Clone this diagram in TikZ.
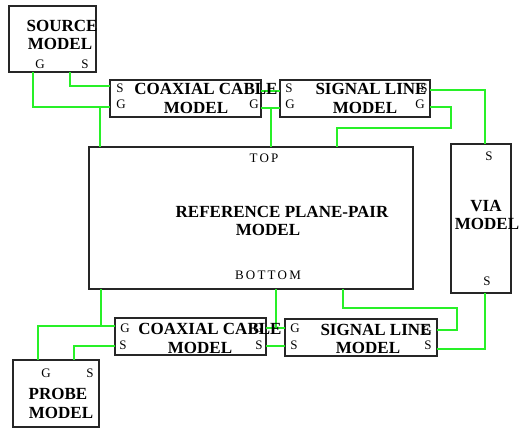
\documentclass[tikz,border=0pt]{standalone}
\usepackage{fontspec}
\setmainfont{Liberation Serif}[BoldFont={Liberation Serif Bold}]
\definecolor{wirec}{RGB}{40,240,40}
\begin{document}
\begin{tikzpicture}[x=1pt,y=-1pt,
  box/.style={draw=black!85,line width=1.2pt,inner sep=0pt,minimum height=37pt},
  big/.style={font=\rmfamily\fontsize{17}{18}\selectfont\bfseries,inner sep=0pt},
  lbl/.style={font=\rmfamily\fontsize{13}{14}\selectfont,inner sep=0pt},
  wire/.style={draw=wirec,line width=1.1pt}]
\useasboundingbox (0,0) rectangle (519,428);
% boxes
\node[box,minimum width=87pt,minimum height=66pt] (src) at (52.5,39) {};
\node[box,minimum width=151pt] (ct) at (185.5,98.5) {};
\node[box,minimum width=150pt] (st) at (355,98.5) {};
\node[box,minimum width=324pt,minimum height=142pt] (ref) at (251,218) {};
\node[box,minimum width=60pt,minimum height=149pt] (via) at (481,218.5) {};
\node[box,minimum width=151pt] (cb) at (190.5,336.5) {};
\node[box,minimum width=152pt] (sb) at (361,337.5) {};
\node[box,minimum width=86pt,minimum height=67pt] (pr) at (56,393.5) {};
% ports
\coordinate (srcG) at (33,72); \coordinate (srcS) at (70,72);
\coordinate (ctSi) at (110,86); \coordinate (ctGi) at (110,107);
\coordinate (ctSo) at (261,91); \coordinate (ctGo) at (261,108);
\coordinate (stSi) at (280,91); \coordinate (stGi) at (280,108);
\coordinate (stSo) at (430,90); \coordinate (stGo) at (430,107);
\coordinate (refT1) at (100,147); \coordinate (refT2) at (271,147); \coordinate (refT3) at (337,147);
\coordinate (viaT) at (485,144); \coordinate (viaB) at (485,293);
\coordinate (refB1) at (101,289); \coordinate (refB2) at (276,289); \coordinate (refB3) at (343,289);
\coordinate (cbGi) at (115,326); \coordinate (cbSi) at (115,346);
\coordinate (cbGo) at (266,328); \coordinate (cbSo) at (266,346);
\coordinate (sbGi) at (285,328); \coordinate (sbSi) at (285,346);
\coordinate (sbGo) at (437,330); \coordinate (sbSo) at (437,349);
\coordinate (prG) at (38,360); \coordinate (prS) at (74,360);
\coordinate (bend1) at (451,128); \coordinate (bend2) at (457,308);
% wires
\draw[wire] (srcS) |- (ctSi);
\draw[wire] (srcG) |- (ctGi);
\draw[wire] (refT1) -- (refT1 |- ctGi);
\draw[wire] (ctSo) -- (stSi);
\draw[wire] (ctGo) -- (stGi);
\draw[wire] (refT2) -- (refT2 |- ctGo);
\draw[wire] (stSo) -| (viaT);
\draw[wire] (stGo) -| (bend1) -| (refT3);
\draw[wire] (refB1) |- (cbGi);
\draw[wire] (refB1 |- cbGi) -| (prG);
\draw[wire] (cbSi) -| (prS);
\draw[wire] (cbGo) -- (sbGi);
\draw[wire] (refB2) -- (refB2 |- cbGo);
\draw[wire] (cbSo) -- (sbSi);
\draw[wire] (refB3) |- (bend2) |- (sbGo);
\draw[wire] (viaB) |- (sbSo);
% source
\node[big] (t1) at (62,26) {SOURCE};
\node[big] (t2) at (60,43.5) {MODEL};
\node[lbl] (l1) at (40,64) {G};
\node[lbl] (l2) at (85,64) {S};
% coax top
\node[big] (t3) at (206,89) {COAXIAL CABLE};
\node[big] (t4) at (196,107.5) {MODEL};
\node[lbl] (l3) at (120,88) {S};
\node[lbl] (l4) at (121,104) {G};
\node[lbl] (l5) at (254,104) {G};
% signal top
\node[big] (t5) at (371,89) {SIGNAL LINE};
\node[big] (t6) at (365,108) {MODEL};
\node[lbl] (l6) at (289,88) {S};
\node[lbl] (l7) at (290,104) {G};
\node[lbl] (l8) at (424,88) {S};
\node[lbl] (l9) at (420,104) {G};
% reference
\node[lbl] (l10) at (264,158) {T\,O\,P};
\node[big] (t7) at (282,212) {REFERENCE PLANE-PAIR};
\node[big] (t8) at (268,230) {MODEL};
\node[lbl] (l11) at (268,275) {B\,O\,T\,T\,O\,M};
% via
\node[lbl] (l12) at (489,156) {S};
\node[big] (t9) at (486,206) {VIA};
\node[big] (t10) at (487,224) {MODEL};
\node[lbl] (l13) at (487,281) {S};
% coax bottom
\node[big] (t11) at (210,329) {COAXIAL CABLE};
\node[big] (t12) at (200,348) {MODEL};
\node[lbl] (l14) at (125,328) {G};
\node[lbl] (l15) at (123,345) {S};
\node[lbl] (l16) at (258,328) {G};
\node[lbl] (l17) at (259,345) {S};
% signal bottom
\node[big] (t13) at (376,330) {SIGNAL LINE};
\node[big] (t14) at (368,348) {MODEL};
\node[lbl] (l18) at (295,328) {G};
\node[lbl] (l19) at (294,345) {S};
\node[lbl] (l20) at (427,330) {G};
\node[lbl] (l21) at (428,345) {S};
% probe
\node[lbl] (l22) at (46,373) {G};
\node[lbl] (l23) at (90,373) {S};
\node[big] (t15) at (58,394) {PROBE};
\node[big] (t16) at (61,412.5) {MODEL};
\end{tikzpicture}
\end{document}
